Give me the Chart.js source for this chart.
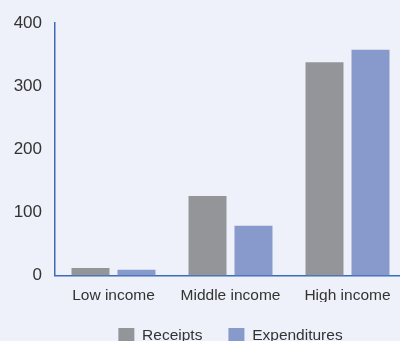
<!DOCTYPE html>
<html>
<head>
<meta charset="utf-8">
<script src="https://cdn.jsdelivr.net/npm/chart.js@4/dist/chart.umd.min.js"></script>
<style>
  html, body { margin: 0; padding: 0; background: #eef1f9; }
  #wrap { position: relative; width: 400px; height: 341px; overflow: hidden; background: #eef1f9; }
  #chart { position: absolute; left: 0; top: 0; }
</style>
</head>
<body>
<div id="wrap">
  <canvas id="chart" width="410" height="354"></canvas>
</div>
<script>
// Chart data
const categories = ['Low income', 'Middle income', 'High income'];
const receipts = [12, 126, 338];
const expenditures = [9, 79, 358];
const yTicks = [0, 100, 200, 300, 400];

const axisBlue = '#3b6cb8';
const textColor = '#333333';
const font = { family: '"Liberation Sans", Arial, sans-serif', size: 15.5 };
const yFont = { family: '"Liberation Sans", Arial, sans-serif', size: 17 };

new Chart(document.getElementById('chart').getContext('2d'), {
  type: 'bar',
  data: {
    labels: categories,
    datasets: [
      {
        label: 'Receipts',
        data: receipts,
        backgroundColor: '#939598',
        borderWidth: 0,
        categoryPercentage: 0.786,
        barPercentage: 0.826,
      },
      {
        label: 'Expenditures',
        data: expenditures,
        backgroundColor: '#879acb',
        borderWidth: 0,
        categoryPercentage: 0.786,
        barPercentage: 0.826,
      }
    ]
  },
  options: {
    responsive: false,
    animation: false,
    layout: {
      padding: { top: 17, right: 4, left: 0, bottom: 0 }
    },
    plugins: {
      tooltip: { enabled: false },
      legend: {
        position: 'bottom',
        fullSize: false,
        labels: {
          boxWidth: 16,
          boxHeight: 16,
          padding: 26,
          color: textColor,
          font: font,
        }
      }
    },
    scales: {
      x: {
        grid: { display: false, drawTicks: false },
        border: { display: true, color: axisBlue, width: 1.5 },
        ticks: { color: textColor, font: font, padding: 11, maxRotation: 0 },
        afterFit: function(scale) { scale.height = 26.5; }
      },
      y: {
        min: 0,
        max: 400,
        grid: { display: false, drawTicks: false },
        border: { display: true, color: axisBlue, width: 1.5 },
        afterBuildTicks: function(scale) {
          scale.ticks = yTicks.map(v => ({ value: v }));
        },
        ticks: { color: textColor, font: yFont, padding: 13 },
        afterFit: function(scale) { scale.width = 55; }
      }
    }
  }
});
</script>
</body>
</html>
